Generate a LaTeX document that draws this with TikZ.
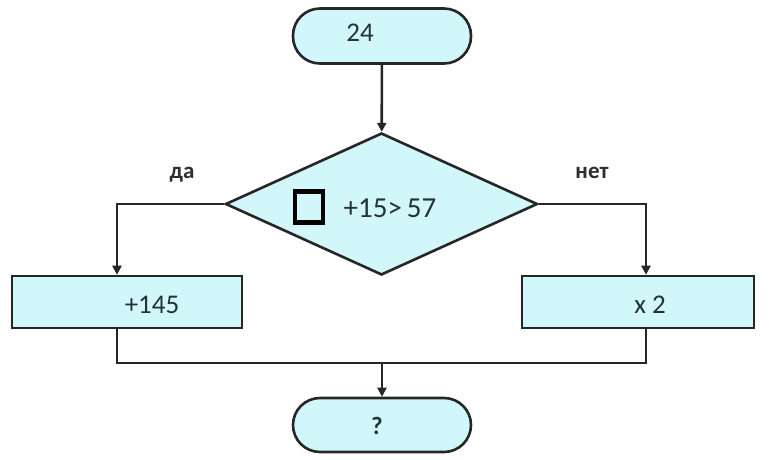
\documentclass[tikz,border=0pt]{standalone}
\usepackage{fontspec}
\setmainfont{Carlito}
\usetikzlibrary{shapes.geometric,arrows.meta}
\definecolor{boxfill}{HTML}{D2F7FB}
\definecolor{txt}{HTML}{223338}
\definecolor{lbl}{HTML}{2E2E2E}
\tikzset{
  shapeline/.style={draw=black!85, line width=2.6pt, fill=boxfill},
  term/.style={shapeline, rectangle, rounded corners=27pt, minimum width=178pt, minimum height=55pt, inner sep=0pt},
  procbox/.style={shapeline, rectangle, minimum height=52pt, inner sep=0pt},
  decision/.style={shapeline, diamond, minimum width=312pt, minimum height=142pt, inner sep=0pt},
  conn/.style={draw=black!85, line width=2.6pt},
  arr/.style={conn, -{Triangle[length=9pt,width=9pt]}},
  numtxt/.style={text=txt, font=\fontsize{27}{30}\selectfont},
  branchlbl/.style={text=lbl, font=\fontsize{23}{26}\selectfont\bfseries},
}
\begin{document}
\begin{tikzpicture}[x=1pt,y=-1pt]
\useasboundingbox (0,0) rectangle (772,459);
\fill[white] (0,0) rectangle (772,459);
\node[term] (start) at (382,36) {};
\node[decision] (dec) at (381.5,204) {};
\node[procbox, minimum width=230pt] (yes) at (127,302) {};
\node[procbox, minimum width=232pt] (no) at (638,302) {};
\node[term, minimum height=54pt] (end) at (382,425) {};
\coordinate (m) at (382,363);
% texts
\node[numtxt] (t24) at (360,33) {24};
\node[draw=black, line width=4.5pt, minimum width=28pt, minimum height=31pt, inner sep=0pt] (sq) at (309,207) {};
\node[numtxt, font=\fontsize{29}{32}\selectfont] (tcond) at (390,208) {+15>\,57};
\node[numtxt] (t145) at (152,305) {+145};
\node[numtxt] (tx2) at (650,305) {x 2};
\node[numtxt, font=\fontsize{25}{28}\selectfont\bfseries] (tq) at (377,426) {?};
\node[branchlbl] (lyes) at (182,175) {да};
\node[branchlbl] (lno) at (592,173) {нет};
% connectors
\draw[arr] (start) -- (dec);
\draw[arr] (dec.west) -| ([xshift=-10pt]yes.north);
\draw[arr] (dec.east) -| ([xshift=8pt]no.north);
\draw[conn] ([xshift=-10pt]yes.south) |- (m) -| ([xshift=8pt]no.south);
\draw[arr] (m) -- (end);
\end{tikzpicture}
\end{document}
